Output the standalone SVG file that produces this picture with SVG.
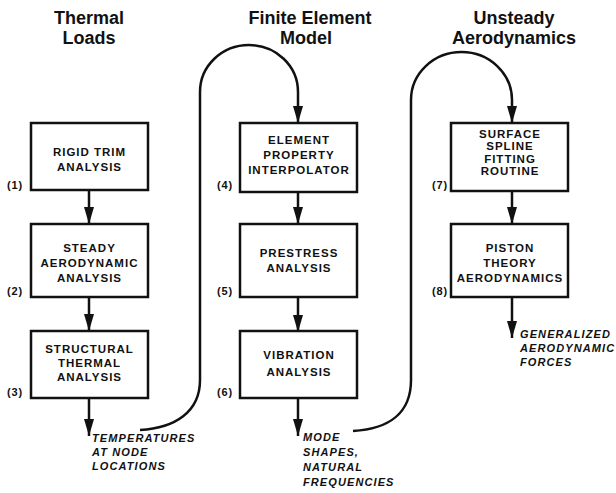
<svg xmlns="http://www.w3.org/2000/svg" width="616" height="493" viewBox="0 0 616 493">
<style>
.title{font-family:"Liberation Sans",Arial,sans-serif;font-weight:bold;font-size:18px;fill:#111;text-anchor:middle}
.box{fill:#fff;stroke:#111;stroke-width:2.5}
.bt{font-family:"Liberation Sans",Arial,sans-serif;font-weight:bold;font-size:11.5px;fill:#111;text-anchor:middle;letter-spacing:1px}
.num{font-family:"Liberation Sans",Arial,sans-serif;font-weight:bold;font-size:11px;fill:#111;letter-spacing:0.8px}
.out{font-family:"Liberation Sans",Arial,sans-serif;font-weight:bold;font-style:italic;font-size:11px;fill:#111;letter-spacing:1.1px}
.conn{fill:none;stroke:#111;stroke-width:2.5}
</style>
<defs>
<marker id="ah" viewBox="0 0 17 10" refX="17" refY="5" markerWidth="17" markerHeight="10" markerUnits="userSpaceOnUse" orient="auto">
<path d="M0,0 L17,5 L0,10 z" fill="#111"/>
</marker>
</defs>
<rect width="616" height="493" fill="#fff"/>
<g id="titles">
<text class="title" x="89" y="24">Thermal</text>
<text class="title" x="89" y="44">Loads</text>
<text class="title" x="310" y="24">Finite Element</text>
<text class="title" x="306" y="44">Model</text>
<text class="title" x="514" y="24">Unsteady</text>
<text class="title" x="514" y="44">Aerodynamics</text>
</g>
<g id="connectors">
<path class="conn" d="M89,190 L89,224" marker-end="url(#ah)"/>
<path class="conn" d="M89,297 L89,331" marker-end="url(#ah)"/>
<path class="conn" d="M89,398 L89,436" marker-end="url(#ah)"/>
<path class="conn" d="M140,430 C175,428 200,412 200,380 L200,92 A49,47 0 0 1 298,92 L298,123" marker-end="url(#ah)"/>
<path class="conn" d="M298,192 L298,224" marker-end="url(#ah)"/>
<path class="conn" d="M298,297 L298,332" marker-end="url(#ah)"/>
<path class="conn" d="M298,398 L298,436" marker-end="url(#ah)"/>
<path class="conn" d="M353,431 C389,429 411,413 411,380 L411,100 A50.5,48 0 0 1 512,100 L512,123" marker-end="url(#ah)"/>
<path class="conn" d="M512,191 L512,224" marker-end="url(#ah)"/>
<path class="conn" d="M512,297 L512,338" marker-end="url(#ah)"/>
</g>
<g id="n1">
<rect class="box" x="31" y="123" width="117" height="67"/>
<text class="bt" x="89.5" y="156">RIGID TRIM</text>
<text class="bt" x="89.5" y="171">ANALYSIS</text>
<text class="num" x="7" y="189">(1)</text>
</g>
<g id="n2">
<rect class="box" x="31" y="224" width="117" height="73"/>
<text class="bt" x="89.5" y="252">STEADY</text>
<text class="bt" x="89.5" y="267">AERODYNAMIC</text>
<text class="bt" x="89.5" y="282">ANALYSIS</text>
<text class="num" x="7" y="295">(2)</text>
</g>
<g id="n3">
<rect class="box" x="31" y="331" width="117" height="67"/>
<text class="bt" x="89.5" y="353">STRUCTURAL</text>
<text class="bt" x="89.5" y="367">THERMAL</text>
<text class="bt" x="89.5" y="381">ANALYSIS</text>
<text class="num" x="7" y="396">(3)</text>
</g>
<g id="n4">
<rect class="box" x="240" y="123" width="117" height="69"/>
<text class="bt" x="299" y="144">ELEMENT</text>
<text class="bt" x="299" y="159">PROPERTY</text>
<text class="bt" x="299" y="174">INTERPOLATOR</text>
<text class="num" x="217" y="189">(4)</text>
</g>
<g id="n5">
<rect class="box" x="240" y="224" width="117" height="73"/>
<text class="bt" x="299" y="257">PRESTRESS</text>
<text class="bt" x="299" y="272">ANALYSIS</text>
<text class="num" x="217" y="295">(5)</text>
</g>
<g id="n6">
<rect class="box" x="240" y="331" width="117" height="67"/>
<text class="bt" x="299" y="359">VIBRATION</text>
<text class="bt" x="299" y="376">ANALYSIS</text>
<text class="num" x="217" y="396">(6)</text>
</g>
<g id="n7">
<rect class="box" x="451" y="123" width="117" height="68"/>
<text class="bt" x="510" y="137.5">SURFACE</text>
<text class="bt" x="510" y="150">SPLINE</text>
<text class="bt" x="510" y="162.5">FITTING</text>
<text class="bt" x="510" y="175">ROUTINE</text>
<text class="num" x="432" y="189">(7)</text>
</g>
<g id="n8">
<rect class="box" x="451" y="224" width="117" height="73"/>
<text class="bt" x="510" y="252">PISTON</text>
<text class="bt" x="510" y="267">THEORY</text>
<text class="bt" x="510" y="282">AERODYNAMICS</text>
<text class="num" x="432" y="295">(8)</text>
</g>
<g id="outputs">
<text class="out" x="92" y="442">TEMPERATURES</text>
<text class="out" x="92" y="456">AT NODE</text>
<text class="out" x="92" y="470">LOCATIONS</text>
<text class="out" x="303" y="441">MODE</text>
<text class="out" x="303" y="456">SHAPES,</text>
<text class="out" x="303" y="471">NATURAL</text>
<text class="out" x="303" y="486">FREQUENCIES</text>
<text class="out" x="520" y="338">GENERALIZED</text>
<text class="out" x="520" y="352">AERODYNAMIC</text>
<text class="out" x="520" y="366">FORCES</text>
</g>
</svg>
